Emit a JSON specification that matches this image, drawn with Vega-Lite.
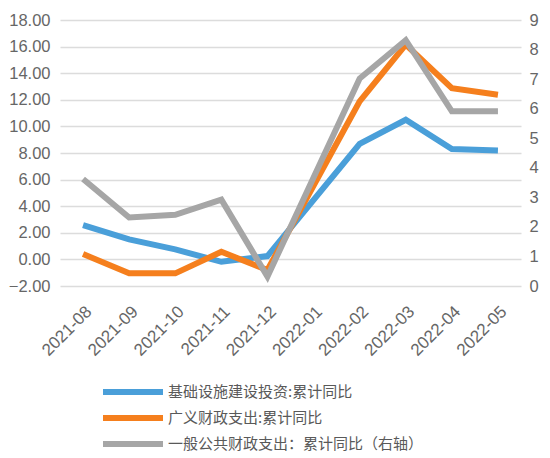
{
  "$schema": "https://vega.github.io/schema/vega-lite/v6.json",
  "width": 461,
  "height": 266,
  "padding": {"left": 5, "top": 12, "right": 5, "bottom": 5},
  "config": {
    "font": "Noto Sans CJK SC",
    "view": {"stroke": null},
    "axis": {
      "labelFont": "Liberation Sans",
      "labelFontSize": 16.5,
      "labelColor": "#666666",
      "domain": false,
      "ticks": false,
      "title": null
    }
  },
  "data": {
    "values": [
      {"month": "2021-08", "series": "基础设施建设投资:累计同比", "value": 2.58},
      {"month": "2021-09", "series": "基础设施建设投资:累计同比", "value": 1.5},
      {"month": "2021-10", "series": "基础设施建设投资:累计同比", "value": 0.75},
      {"month": "2021-11", "series": "基础设施建设投资:累计同比", "value": -0.18},
      {"month": "2021-12", "series": "基础设施建设投资:累计同比", "value": 0.25},
      {"month": "2022-02", "series": "基础设施建设投资:累计同比", "value": 8.69},
      {"month": "2022-03", "series": "基础设施建设投资:累计同比", "value": 10.5},
      {"month": "2022-04", "series": "基础设施建设投资:累计同比", "value": 8.3},
      {"month": "2022-05", "series": "基础设施建设投资:累计同比", "value": 8.18},
      {"month": "2021-08", "series": "广义财政支出:累计同比", "value": 0.4},
      {"month": "2021-09", "series": "广义财政支出:累计同比", "value": -1.05},
      {"month": "2021-10", "series": "广义财政支出:累计同比", "value": -1.05},
      {"month": "2021-11", "series": "广义财政支出:累计同比", "value": 0.57},
      {"month": "2021-12", "series": "广义财政支出:累计同比", "value": -0.8},
      {"month": "2022-02", "series": "广义财政支出:累计同比", "value": 11.88},
      {"month": "2022-03", "series": "广义财政支出:累计同比", "value": 16.15},
      {"month": "2022-04", "series": "广义财政支出:累计同比", "value": 12.88},
      {"month": "2022-05", "series": "广义财政支出:累计同比", "value": 12.38},
      {"month": "2021-08", "series": "一般公共财政支出：累计同比（右轴）", "value": 3.62},
      {"month": "2021-09", "series": "一般公共财政支出：累计同比（右轴）", "value": 2.32},
      {"month": "2021-10", "series": "一般公共财政支出：累计同比（右轴）", "value": 2.41},
      {"month": "2021-11", "series": "一般公共财政支出：累计同比（右轴）", "value": 2.92},
      {"month": "2021-12", "series": "一般公共财政支出：累计同比（右轴）", "value": 0.32},
      {"month": "2022-02", "series": "一般公共财政支出：累计同比（右轴）", "value": 7.02},
      {"month": "2022-03", "series": "一般公共财政支出：累计同比（右轴）", "value": 8.32},
      {"month": "2022-04", "series": "一般公共财政支出：累计同比（右轴）", "value": 5.91},
      {"month": "2022-05", "series": "一般公共财政支出：累计同比（右轴）", "value": 5.91}
    ]
  },
  "encoding": {
    "x": {
      "field": "month",
      "type": "ordinal",
      "scale": {
        "domain": ["2021-08", "2021-09", "2021-10", "2021-11", "2021-12", "2022-01", "2022-02", "2022-03", "2022-04", "2022-05"],
        "padding": 0.5
      },
      "axis": {"labelAngle": -45, "grid": false, "labelPadding": 17, "labelFontSize": 17}
    },
    "color": {
      "field": "series",
      "type": "nominal",
      "scale": {
        "domain": ["基础设施建设投资:累计同比", "广义财政支出:累计同比", "一般公共财政支出：累计同比（右轴）"],
        "range": ["#4a9fd9", "#f57f1d", "#a6a6a6"]
      },
      "legend": {
        "orient": "none",
        "legendX": 64,
        "legendY": 363,
        "title": null,
        "symbolType": "M-5,0H5",
        "symbolStrokeWidth": 6,
        "symbolSize": 144,
        "labelFontSize": 15,
        "labelColor": "#595959",
        "labelOffset": 26,
        "labelLimit": 0,
        "rowPadding": 2
      }
    }
  },
  "layer": [
    {
      "transform": [{"filter": "datum.series != '一般公共财政支出：累计同比（右轴）'"}],
      "mark": {"type": "line", "strokeWidth": 6},
      "encoding": {
        "y": {
          "field": "value",
          "type": "quantitative",
          "scale": {"domain": [-2, 18], "nice": false},
          "axis": {
            "values": [-2, 0, 2, 4, 6, 8, 10, 12, 14, 16, 18],
            "format": ".2f",
            "gridColor": "#dcdcdc",
            "gridWidth": 1.5,
            "labelPadding": 10,
            "minExtent": 55,
            "maxExtent": 55
          }
        }
      }
    },
    {
      "transform": [{"filter": "datum.series == '一般公共财政支出：累计同比（右轴）'"}],
      "mark": {"type": "line", "strokeWidth": 6},
      "encoding": {
        "y": {
          "field": "value",
          "type": "quantitative",
          "scale": {"domain": [0, 9], "nice": false},
          "axis": {
            "orient": "right",
            "values": [0, 1, 2, 3, 4, 5, 6, 7, 8, 9],
            "grid": false,
            "labelPadding": 8
          }
        }
      }
    }
  ],
  "resolve": {"scale": {"y": "independent"}}
}
